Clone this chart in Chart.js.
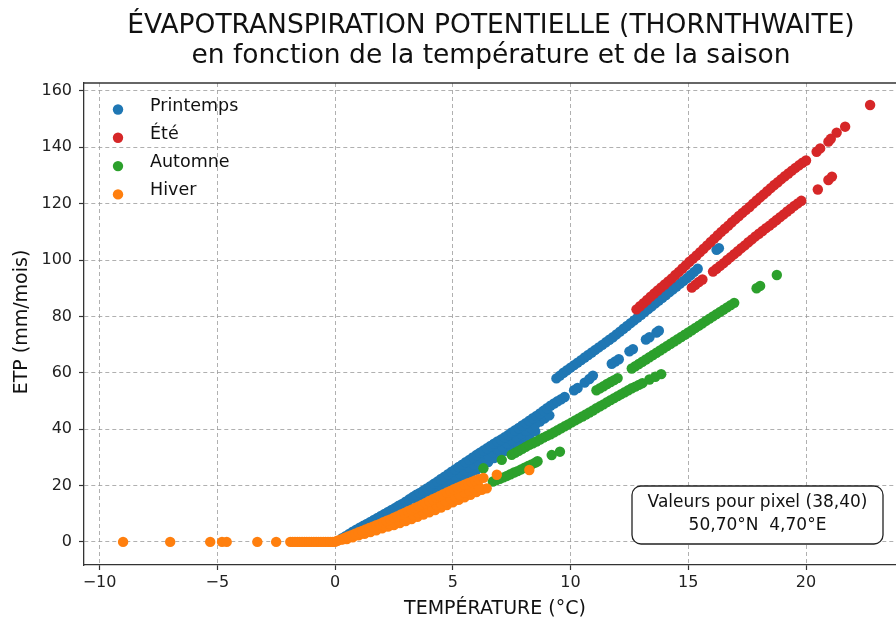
<!DOCTYPE html>
<html>
<head>
<meta charset="utf-8">
<script src="https://cdn.jsdelivr.net/npm/chart.js@4.4.1/dist/chart.umd.min.js"></script>
<style>
  html, body { margin: 0; padding: 0; background: #fff; }
  canvas { display: block; }
</style>
</head>
<body>
<canvas id="etpChart" width="896" height="621"></canvas>
<script>
// ticks
const xTicks = [-10, -5, 0, 5, 10, 15, 20];
const xTickLabels = ['\u221210', '\u22125', '0', '5', '10', '15', '20'];
const yTicks = [0, 20, 40, 60, 80, 100, 120, 140, 160];

// Printemps (T, ETP)
const printempsA_haut = [[0.3,1.3],[0.45,2],[0.6,2.8],[0.75,3.6],[0.9,4.3],[1.05,5],[1.2,5.7],[1.35,6.4],[1.5,7.1],[1.65,7.8],[1.8,8.5],[1.95,9.2],[2.1,9.9],[2.25,10.6],[2.4,11.3],[2.55,12],[2.7,12.8],[2.85,13.5],[3.0,14.3],[3.15,15.1],[3.3,15.9],[3.45,16.7],[3.6,17.4],[3.75,18.2],[3.9,19],[4.05,19.8],[4.2,20.6],[4.35,21.4],[4.5,22.3],[4.65,23.1],[4.8,24],[4.95,24.9],[5.1,25.7],[5.25,26.6],[5.4,27.4],[5.55,28.3],[5.7,29.1],[5.85,30],[6.0,30.8],[6.15,31.6],[6.3,32.4],[6.45,33.2],[6.6,34],[6.75,34.8],[6.9,35.6],[7.05,36.3],[7.2,37.1],[7.35,37.9],[7.5,38.8],[7.65,39.6],[7.8,40.4],[7.95,41.3],[8.1,42.1],[8.25,43],[8.4,43.9],[8.55,44.7],[8.7,45.6],[8.85,46.5],[9.0,47.4],[9.15,48.3],[9.3,49.1],[9.45,49.9],[9.6,50.6],[9.75,51.4]];
const printempsA_milieu = [[3.5,15],[3.7,15.9],[3.9,16.9],[4.1,17.9],[4.3,19],[4.5,20],[4.7,21],[4.9,22.1],[5.1,23.1],[5.3,24.2],[5.5,25.3],[5.7,26.4],[5.9,27.4],[6.1,28.5],[6.3,29.6],[6.5,30.6],[6.7,31.7],[6.9,32.8],[7.1,33.9],[7.3,35],[7.5,36.1],[7.7,37.2],[7.9,38.3],[8.1,39.4],[8.3,40.5],[8.5,41.6],[8.7,42.7],[8.9,43.8],[9.1,44.9]];
const printempsA_bas = [[1.0,3.6],[1.25,4.4],[1.5,5.3],[1.75,6.1],[2.0,7],[2.25,7.9],[2.5,8.8],[2.75,9.8],[3.0,10.8],[3.25,11.9],[3.5,13],[3.75,14.2],[4.0,15.5],[4.25,16.8],[4.5,18.1],[4.75,19.3],[5.0,20.5],[5.25,21.8],[5.5,23],[5.75,24.3],[6.0,25.6],[6.25,27],[6.5,28.3],[6.75,29.7],[7.0,31],[7.25,32.3],[7.5,33.6],[7.75,35],[8.0,36.4],[8.25,37.8],[8.5,39.2]];
const printempsB = [[10.15,53.8],[10.3,54.6],[10.6,56.5],[10.8,57.8],[10.95,59],[11.75,63.2],[11.9,64],[12.05,64.8],[12.5,67.6],[12.65,68.4],[13.2,71.8],[13.35,72.6],[13.65,74.3],[13.75,74.9]];
const printempsC = [[9.4,58],[9.55,59],[9.7,60],[9.85,60.9],[10.0,61.8],[10.15,62.7],[10.3,63.6],[10.45,64.5],[10.6,65.4],[10.75,66.3],[10.9,67.2],[11.05,68.1],[11.2,69],[11.35,69.9],[11.5,70.8],[11.65,71.7],[11.8,72.6],[11.95,73.6],[12.1,74.6],[12.25,75.6],[12.4,76.6],[12.55,77.6],[12.7,78.6],[12.85,79.6],[13.0,80.6],[13.15,81.6],[13.3,82.6],[13.45,83.6],[13.6,84.6],[13.75,85.6],[13.9,86.6],[14.05,87.6],[14.2,88.6],[14.35,89.6],[14.5,90.6],[14.65,91.6],[14.8,92.6],[14.95,93.6],[15.1,94.7],[15.25,95.8],[15.4,96.9],[16.2,103.6],[16.3,104.2]];

// Été
const eteHaut = [[12.8,82.5],[12.95,83.6],[13.1,84.7],[13.25,85.8],[13.4,87],[13.55,88.1],[13.7,89.2],[13.85,90.3],[14.0,91.3],[14.15,92.4],[14.3,93.5],[14.45,94.7],[14.6,95.8],[14.75,97],[14.9,98.2],[15.05,99.4],[15.2,100.5],[15.35,101.6],[15.5,102.8],[15.65,104],[15.8,105.2],[15.95,106.4],[16.1,107.6],[16.25,108.8],[16.4,110],[16.55,111.1],[16.7,112.2],[16.85,113.4],[17.0,114.5],[17.15,115.6],[17.3,116.7],[17.45,117.8],[17.6,118.8],[17.75,120],[17.9,121.1],[18.05,122.2],[18.2,123.3],[18.35,124.4],[18.5,125.5],[18.65,126.6],[18.8,127.6],[18.95,128.7],[19.1,129.7],[19.25,130.7],[19.4,131.7],[19.55,132.7],[19.7,133.6],[19.85,134.5],[20.0,135.3],[20.45,138.4],[20.6,139.6],[20.95,142],[21.05,143],[21.3,145.2],[21.66,147.3],[22.72,155]];
const eteBas = [[15.15,90.2],[15.3,91.2],[15.45,92.2],[15.6,93.1],[16.05,95.9],[16.2,96.9],[16.35,97.9],[16.5,98.9],[16.65,100],[16.8,101],[16.95,102.1],[17.1,103.1],[17.25,104.2],[17.4,105.2],[17.55,106.3],[17.7,107.3],[17.85,108.4],[18.0,109.3],[18.15,110.3],[18.3,111.3],[18.45,112.2],[18.6,113.2],[18.75,114.2],[18.9,115.2],[19.05,116.2],[19.2,117.2],[19.35,118.2],[19.5,119.2],[19.65,120.1],[19.8,121],[20.5,125],[20.95,128.4],[21.1,129.6]];

// Automne
const automneBas = [[6.7,21.4],[6.85,21.9],[7.0,22.4],[7.15,22.9],[7.3,23.4],[7.45,24],[7.6,24.6],[7.75,25.1],[7.9,25.7],[8.05,26.3],[8.2,26.9],[8.35,27.5],[8.5,28.1],[8.6,28.6],[9.2,30.8],[9.55,32]];
const automneMilieu = [[6.3,26.1],[7.08,29.1],[7.5,30.9],[7.65,31.6],[7.8,32.3],[7.95,33],[8.1,33.7],[8.25,34.4],[8.4,35],[8.55,35.6],[8.7,36.3],[8.85,37],[9.0,37.6],[9.15,38.2],[9.3,38.9],[9.45,39.6],[9.6,40.3],[9.75,41],[9.9,41.7],[10.05,42.4],[10.2,43.1],[10.35,43.8],[10.5,44.5],[10.65,45.2],[10.8,45.9],[10.95,46.6],[11.1,47.4],[11.25,48.1],[11.4,48.8],[11.55,49.6],[11.7,50.3],[11.85,51],[12.0,51.7],[12.15,52.4],[12.3,53.1],[12.45,53.8],[12.6,54.5],[12.75,55.1],[12.9,55.7],[13.05,56.3],[13.35,57.6],[13.6,58.6],[13.85,59.5]];
const automneHaut = [[11.1,53.8],[11.25,54.5],[11.4,55.2],[11.55,56],[11.7,56.7],[11.85,57.4],[12.0,58.1],[12.6,61.5],[12.75,62.3],[12.9,63.1],[13.05,63.9],[13.2,64.7],[13.35,65.5],[13.5,66.3],[13.65,67.1],[13.8,67.9],[13.95,68.7],[14.1,69.5],[14.25,70.3],[14.4,71.1],[14.55,71.9],[14.7,72.7],[14.85,73.5],[15.0,74.3],[15.15,75.1],[15.3,75.9],[15.45,76.7],[15.6,77.5],[15.75,78.4],[15.9,79.2],[16.05,80],[16.2,80.8],[16.35,81.6],[16.5,82.4],[16.65,83.2],[16.8,84],[16.95,84.8],[17.9,90],[18.05,90.8],[18.76,94.7]];

// Hiver
const hiverGel = [[-9.0,0],[-7.0,0],[-5.3,0],[-4.8,0],[-4.6,0],[-3.3,0],[-2.5,0],[-1.9,0],[-1.8,0],[-1.7,0],[-1.6,0],[-1.5,0],[-1.4,0],[-1.3,0],[-1.2,0],[-1.1,0],[-1.0,0],[-0.9,0],[-0.8,0],[-0.7,0],[-0.6,0],[-0.5,0],[-0.4,0],[-0.3,0],[-0.2,0],[-0.1,0],[0.0,0]];
const hiverHaut = [[0.1,0.4],[0.25,0.9],[0.4,1.4],[0.55,1.9],[0.7,2.4],[0.85,2.9],[1.0,3.4],[1.15,3.9],[1.3,4.4],[1.45,4.9],[1.6,5.4],[1.75,5.9],[1.9,6.4],[2.05,7],[2.2,7.5],[2.35,8],[2.5,8.6],[2.65,9.1],[2.8,9.7],[2.95,10.3],[3.1,10.9],[3.25,11.4],[3.4,12],[3.55,12.6],[3.7,13.2],[3.85,13.8],[4.0,14.5],[4.15,15.1],[4.3,15.7],[4.45,16.3],[4.6,16.9],[4.75,17.5],[4.9,18.1],[5.05,18.7],[5.2,19.2],[5.35,19.8],[5.5,20.3],[5.65,20.8],[5.8,21.3],[5.95,21.8],[6.1,22.2],[6.3,22.7],[6.87,23.8],[8.25,25.5]];
const hiverMilieu = [[0.3,0.8],[0.5,1.4],[0.7,1.9],[0.9,2.5],[1.1,3],[1.3,3.5],[1.5,4.1],[1.7,4.6],[1.9,5.2],[2.1,5.8],[2.3,6.4],[2.5,7],[2.7,7.6],[2.9,8.3],[3.1,8.9],[3.3,9.6],[3.5,10.3],[3.7,11],[3.9,11.7],[4.1,12.4],[4.3,13.1],[4.5,13.8],[4.7,14.5],[4.9,15.3],[5.1,16],[5.3,16.7],[5.5,17.5],[5.7,18.2],[5.9,19],[6.1,19.7]];
const hiverBas = [[0.5,1],[0.75,1.6],[1.0,2.3],[1.25,2.9],[1.5,3.5],[1.75,4.1],[2.0,4.8],[2.25,5.4],[2.5,6],[2.75,6.7],[3.0,7.4],[3.25,8.1],[3.5,8.9],[3.75,9.7],[4.0,10.5],[4.25,11.3],[4.5,12.2],[4.75,13.1],[5.0,14],[5.25,14.9],[5.5,15.8],[5.75,16.7],[6.0,17.7],[6.23,18.5],[6.44,19]];

const toXY = (arr) => arr.map((p)=>({x: p[0], y: p[1]}));
const font = "'DejaVu Sans', 'Liberation Sans', sans-serif";

const series = [
  {label: 'Printemps', color: '#1f77b4', order: 4, pts: [].concat(printempsA_bas, printempsA_milieu, printempsA_haut, printempsB, printempsC)},
  {label: '\u00c9t\u00e9', color: '#d62728', order: 3, pts: [].concat(eteBas, eteHaut)},
  {label: 'Automne', color: '#2ca02c', order: 2, pts: [].concat(automneBas, automneMilieu, automneHaut)},
  {label: 'Hiver', color: '#ff7f0e', order: 1, pts: [].concat(hiverGel, hiverBas, hiverMilieu, hiverHaut)}
];

// title, legend, note box, axis titles, top spine
const decor = {
  id: 'decor',
  afterDraw(chart) {
    const c = chart.ctx;
    const a = chart.chartArea;
    c.save();
    c.strokeStyle = '#333';
    c.lineWidth = 1.3;
    c.beginPath();
    c.moveTo(a.left, a.top);
    c.lineTo(a.right, a.top);
    c.stroke();

    c.fillStyle = '#111';
    c.textAlign = 'center';
    c.textBaseline = 'middle';
    c.font = '26.5px ' + font;
    c.fillText('\u00c9VAPOTRANSPIRATION POTENTIELLE (THORNTHWAITE)', 491, 26);
    c.fillText('en fonction de la temp\u00e9rature et de la saison', 491, 56);

    c.font = '19px ' + font;
    c.fillText('TEMP\u00c9RATURE (\u00b0C)', 495, 609);
    c.save();
    c.translate(22, 322);
    c.rotate(-Math.PI/2);
    c.fillText('ETP (mm/mois)', 0, 0);
    c.restore();

    // legend
    c.font = '17.5px ' + font;
    c.textAlign = 'left';
    series.forEach((s, i)=>{
      const y = 106 + i*28.3;
      c.fillStyle = s.color;
      c.beginPath();
      c.arc(118, y + 3.5, 5.2, 0, Math.PI*2);
      c.fill();
      c.fillStyle = '#111';
      c.fillText(s.label, 150, y);
    });

    // note box
    const bx = 632, by = 486, bw = 251, bh = 58, r = 9;
    c.beginPath();
    c.roundRect(bx, by, bw, bh, r);
    c.fillStyle = '#fff';
    c.fill();
    c.strokeStyle = '#222';
    c.lineWidth = 1.3;
    c.stroke();
    c.fillStyle = '#111';
    c.textAlign = 'center';
    c.font = '17px ' + font;
    c.fillText('Valeurs pour pixel (38,40)', bx + bw/2, by + 17);
    c.fillText('50,70\u00b0N  4,70\u00b0E', bx + bw/2, by + 40);
    c.restore();
  }
};

const ctx = document.getElementById('etpChart').getContext('2d');
const chart = new Chart(ctx, {
  type: 'scatter',
  data: {
    datasets: series.map((s)=>({
      label: s.label,
      data: toXY(s.pts),
      backgroundColor: s.color,
      borderColor: s.color,
      borderWidth: 0,
      pointRadius: 5.2,
      pointHoverRadius: 5.2,
      order: s.order
    }))
  },
  options: {
    responsive: false,
    animation: false,
    layout: {autoPadding: false, padding: {top: 83, right: 0, bottom: 0, left: 0}},
    plugins: {legend: {display: false}, tooltip: {enabled: false}, title: {display: false}},
    scales: {
      x: {
        type: 'linear',
        min: -10.66,
        max: 23.82,
        afterFit: (s)=>{ s.height = 56; },
        afterBuildTicks: (s)=>{ s.ticks = xTicks.map((v)=>({value: v})); },
        ticks: {
          color: '#222',
          padding: 3,
          maxRotation: 0,
          font: {family: font, size: 16},
          callback: (v)=>{ const i = xTicks.indexOf(v); return i >= 0 ? xTickLabels[i] : ''; }
        },
        grid: {color: 'rgba(150,150,150,0.75)', lineWidth: 1, tickLength: 5, tickColor: '#333', tickWidth: 1.2},
        border: {display: true, color: '#333', width: 1.3, dash: [4, 3]}
      },
      y: {
        type: 'linear',
        min: -8.2,
        max: 162.8,
        afterFit: (s)=>{ s.width = 84; },
        afterBuildTicks: (s)=>{ s.ticks = yTicks.map((v)=>({value: v})); },
        ticks: {color: '#222', padding: 7, font: {family: font, size: 16}},
        grid: {color: 'rgba(150,150,150,0.75)', lineWidth: 1, tickLength: 5, tickColor: '#333', tickWidth: 1.2},
        border: {display: true, color: '#333', width: 1.3, dash: [4, 3]}
      }
    }
  },
  plugins: [decor]
});
</script>
</body>
</html>
